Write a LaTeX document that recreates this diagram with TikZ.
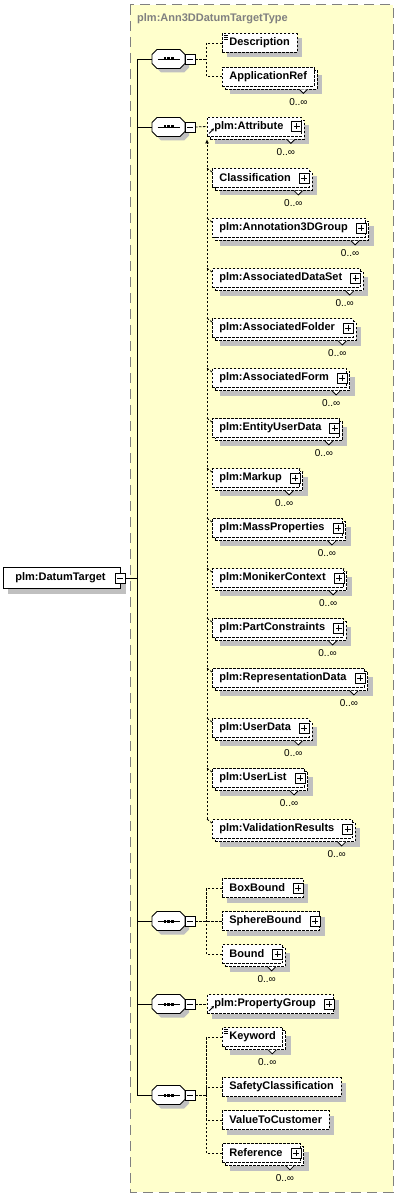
\documentclass[tikz,border=0pt]{standalone}
\usepackage{fontspec}
\setmainfont{Liberation Sans}
\usetikzlibrary{shadows,arrows.meta,calc}
\definecolor{bgy}{RGB}{255,255,204}
\definecolor{shd}{RGB}{192,192,192}
\definecolor{ttl}{RGB}{128,128,128}
\newcommand{\pgap}{\kern11pt}
\tikzset{
  dsh/.style={dash pattern=on 2.5pt off 1.5pt},
  elem/.style={draw=black, line width=0.8pt, dsh, fill=white,
    font=\bfseries\fontsize{11}{13}\selectfont, inner xsep=7pt, inner ysep=0pt,
    minimum height=19pt, anchor=west},
  single/.style={drop shadow={shadow xshift=5pt, shadow yshift=-5pt, fill=shd, opacity=1}},
  multi/.style={drop shadow={shadow xshift=8pt, shadow yshift=-8pt, fill=shd, opacity=1},
    general shadow={draw=black, fill=white, line width=0.8pt, dsh, shadow xshift=3pt, shadow yshift=-3pt}},
  conn/.style={draw=black, line width=0.8pt, dsh},
  tree/.style={draw=black, line width=0.8pt},
  mult/.style={font=\fontsize{10}{12}\selectfont, anchor=base, inner sep=0pt},
  notch/.style={draw=black, fill=white, line width=0.8pt, solid},
  icon/.style={draw=black, line width=0.8pt, solid},
  plusicon/.pic={
    \draw[icon, fill=white] (-5,-5) rectangle (5,5);
    \draw[icon] (-3,0) -- (3,0) (0,-3) -- (0,3);
  },
  minusicon/.pic={
    \draw[icon, fill=white] (-5,-5) rectangle (5,5);
    \draw[icon] (-3,0) -- (3,0);
  },
  seq/.pic={
    \fill[shd] (-7.5,-5.5) -- (15.5,-5.5) -- (20.5,-0.5) -- (20.5,8.5) -- (15.5,13.5) -- (-7.5,13.5) -- (-12.5,8.5) -- (-12.5,-0.5) -- cycle;
    \draw[icon, fill=white] (-11.5,-9.5) -- (11.5,-9.5) -- (16.5,-4.5) -- (16.5,4.5) -- (11.5,9.5) -- (-11.5,9.5) -- (-16.5,4.5) -- (-16.5,-4.5) -- cycle;
    \draw[icon] (-11,0) -- (11,0);
    \fill (-5,-1.5) rectangle (-2.5,1.5);
    \fill (-1.25,-1.5) rectangle (1.25,1.5);
    \fill (2.5,-1.5) rectangle (5,1.5);
    \draw[icon, fill=white] (16.5,-5) rectangle (26.5,5);
    \draw[icon] (18.5,0) -- (24.5,0);
    \coordinate (-in) at (-16.5,0);
    \coordinate (-out) at (26.5,0);
  }
}
\newcommand{\occ}[1]{%
  \draw[notch] ([xshift=-15pt,yshift=-3pt]#1.south east) -- ++(4,4) -- ++(4,-4);
  \node[mult] at ([xshift=-16pt,yshift=-19pt]#1.south east) {0..∞};}
\newcommand{\plusat}[1]{\pic at ([xshift=-5pt]#1.east) {plusicon};}
\newcommand{\docicon}[1]{%
  \draw[line width=0.6pt] ([shift={(2pt,-2pt)}]#1.north west) -- ++(4,0);
  \draw[line width=0.6pt] ([shift={(2pt,-4pt)}]#1.north west) -- ++(4,0);
  \draw[line width=0.6pt] ([shift={(2pt,-6pt)}]#1.north west) -- ++(4,0);}
\newcommand{\reficon}[1]{%
  \draw[line width=0.9pt, -{Stealth[length=3pt,width=3pt]}] ([shift={(2pt,3pt)}]#1.south west) -- ++(5,-5);}
\begin{document}
\begin{tikzpicture}[x=1pt,y=-1pt]
\useasboundingbox (0,0) rectangle (399,1198);
% outer type box
\draw[draw=ttl, fill=bgy, line width=1pt, dash pattern=on 10pt off 6pt] (130,5) rectangle (393,1192);
\node[anchor=west, inner sep=0pt, text=ttl, font=\bfseries\fontsize{11}{13}\selectfont] (title) at (137,19) {plm:Ann3DDatumTargetType};

% root element
\node[elem, solid, single, inner xsep=12pt, minimum height=21pt] (dt) at (3,578) {plm:DatumTarget\kern3pt};
\pic at (120,578) {minusicon};
\coordinate (dtm) at (125,578);

% sequences
\pic (s1) at (168.5,59) {seq};
\pic (s2) at (168.5,127) {seq};
\pic (s3) at (168.5,921) {seq};
\pic (s4) at (168.5,1004) {seq};
\pic (s5) at (168.5,1095) {seq};
\coordinate (trunk) at (137,59);
\draw[tree] (s1-in) -- (trunk) -- (trunk |- s5-in) -- (s5-in);
\draw[tree] (s2-in) -- (trunk |- s2-in);
\draw[tree] (s3-in) -- (trunk |- s3-in);
\draw[tree] (s4-in) -- (trunk |- s4-in);
\draw[tree] (dtm) -- (trunk |- dtm);

% sequence 1
\node[elem, single] (desc) at (222,43) {Description};
\docicon{desc}
\node[elem, multi] (appref) at (222,76.5) {ApplicationRef};
\occ{appref}
\coordinate (j1) at (206,59);
\draw[conn] (s1-out) -- (j1);
\draw[conn] (desc.west) -| (j1);
\draw[conn] (appref.west) -| (j1);

% sequence 2
\node[elem, multi] (attr) at (207,126.5) {plm:Attribute\pgap};
\plusat{attr}
\occ{attr}
\reficon{attr}
\draw[conn] (s2-out) -- (attr.west);
\coordinate (gtop) at ([yshift=-3pt]attr.south west);
\foreach \nm/\tx/\yy in {cls/Classification/178, a3g/plm:Annotation3DGroup/228,
  ads/plm:AssociatedDataSet/278, afo/plm:AssociatedFolder/328, afm/plm:AssociatedForm/378,
  eud/plm:EntityUserData/428, mkp/plm:Markup/478, mpr/plm:MassProperties/528,
  mon/plm:MonikerContext/578, pcs/plm:PartConstraints/628, rep/plm:RepresentationData/678,
  ud/plm:UserData/728, ul/plm:UserList/778, vr/plm:ValidationResults/829}{
  \node[elem, multi] (\nm) at (212,\yy) {\tx\pgap};
  \plusat{\nm}
  \occ{\nm}
  \draw[conn] ([xshift=-5pt]\nm.north west) -- ([yshift=-4pt]\nm.north west);
}
\draw[conn, -{Latex[length=4pt,width=4pt]}] (gtop |- vr.north west) -- (gtop);

% sequence 3
\node[elem, single] (box) at (222,888) {BoxBound\pgap};
\plusat{box}
\node[elem, single] (sph) at (222,921) {SphereBound\pgap};
\plusat{sph}
\node[elem, multi] (bnd) at (222,954) {Bound\pgap};
\plusat{bnd}
\occ{bnd}
\coordinate (j3) at (206,921);
\draw[conn] (s3-out) -- (sph.west);
\draw[conn] (box.west) -| (j3);
\draw[conn] (bnd.west) -| (j3);

% sequence 4
\node[elem, single] (pg) at (207,1004) {plm:PropertyGroup\pgap};
\plusat{pg}
\reficon{pg}
\draw[conn] (s4-out) -- (pg.west);

% sequence 5
\node[elem, multi] (kw) at (222,1037) {Keyword};
\docicon{kw}
\occ{kw}
\node[elem, single] (saf) at (222,1087) {SafetyClassification};
\node[elem, single] (vtc) at (222,1120) {ValueToCustomer};
\node[elem, multi] (ref) at (222,1153) {Reference\pgap};
\plusat{ref}
\occ{ref}
\coordinate (j5) at (206,1095);
\draw[conn] (s5-out) -- (j5);
\draw[conn] (kw.west) -| (j5);
\draw[conn] (saf.west) -| (j5);
\draw[conn] (vtc.west) -| (j5);
\draw[conn] (ref.west) -| (j5);
\end{tikzpicture}
\end{document}
